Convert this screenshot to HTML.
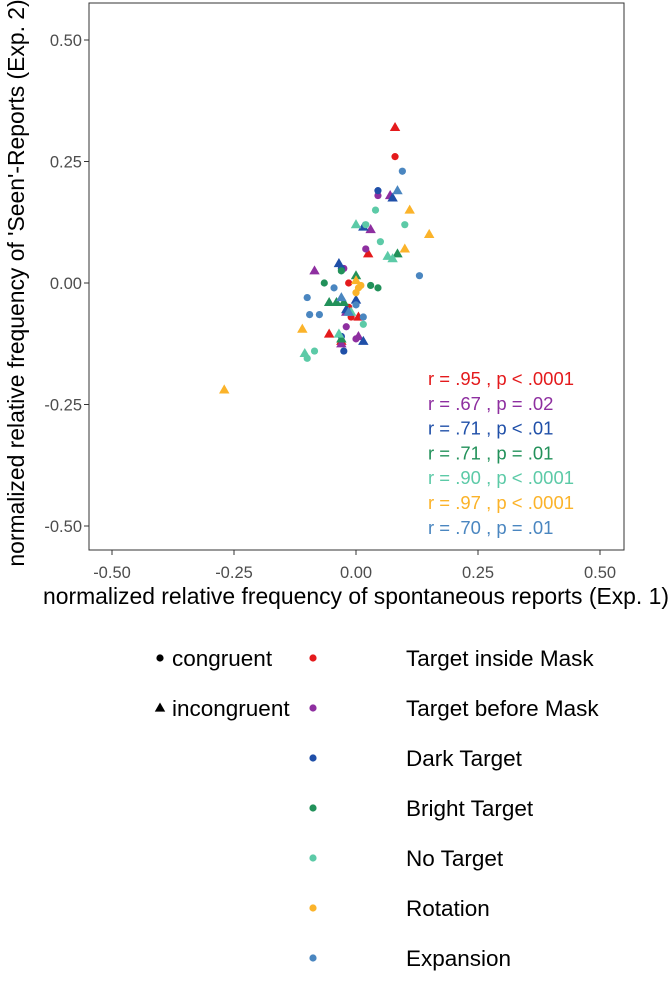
<!DOCTYPE html>
<html><head><meta charset="utf-8"><style>
body{margin:0;background:#fff;font-family:"Liberation Sans",Arial,sans-serif}
svg text{font-family:"Liberation Sans",Arial,sans-serif}
</style></head><body>
<svg id="chart" width="670" height="997">
<rect x="89" y="3" width="535" height="547" fill="#fff" stroke="#333" stroke-width="1"/>
<g id="axes"></g><g id="marks"></g><g id="annot"></g><g id="legend"></g>
<text x="356" y="604" text-anchor="middle" font-size="22.9" fill="#000">normalized relative frequency of spontaneous reports (Exp. 1)</text>
<text transform="translate(24,283) rotate(-90)" text-anchor="middle" font-size="22.9" fill="#000">normalized relative frequency of 'Seen'-Reports (Exp. 2)</text>
</svg>
<script>
const xTicks=[-0.5,-0.25,0,0.25,0.5];
const yTicks=[-0.5,-0.25,0,0.25,0.5];
const tickLabels=["-0.50","-0.25","0.00","0.25","0.50"];
const seriesNames=["Target inside Mask","Target before Mask","Dark Target","Bright Target","No Target","Rotation","Expansion"];
const seriesColors=["#e41a1c","#8e2fa0","#1f4fa8","#22915a","#5ccaa7","#fbb32a","#4a86c0"];
const corrLabels=["r =  .95 , p < .0001","r =  .67 , p = .02","r =  .71 , p < .01","r =  .71 , p = .01","r =  .90 , p < .0001","r =  .97 , p < .0001","r =  .70 , p = .01"];
// [x, y] values per series, C = congruent (circle), I = incongruent (triangle)
const redC=[[.08,.26],[-.015,0],[-.015,-.05],[-.01,-.07]];
const redI=[[.08,.32],[.025,.06],[.005,-.07],[-.055,-.105],[-.03,-.12]];
const purC=[[.02,.07],[.045,.18],[-.025,.03],[0,-.115],[-.02,-.09]];
const purI=[[-.085,.025],[.03,.11],[.07,.18],[.005,-.11],[-.03,-.125],[-.02,-.06]];
const dbC=[[.045,.19],[-.03,.03],[-.025,-.14],[-.03,-.11]];
const dbI=[[-.035,.04],[.015,.115],[.075,.175],[0,-.035],[.015,-.12],[-.02,-.055]];
const grC=[[-.065,0],[-.03,.025],[.03,-.005],[.045,-.01]];
const grI=[[.085,.06],[0,.015],[-.04,-.04],[-.055,-.04],[-.025,-.04],[-.03,-.115]];
const ntC=[[.04,.15],[.02,.12],[.05,.085],[.1,.12],[-.085,-.14],[-.1,-.155],[.015,-.085]];
const ntI=[[.065,.055],[.075,.05],[-.01,-.06],[-.105,-.145],[-.035,-.105],[0,.12]];
const roC=[[0,-.02],[.005,-.01],[.01,-.005]];
const roI=[[.11,.15],[.15,.1],[.1,.07],[-.27,-.22],[-.11,-.095],[0,.005]];
const exC=[[.095,.23],[.13,.015],[-.1,-.03],[-.095,-.065],[-.075,-.065],[0,-.045],[-.045,-.01],[.015,-.07]];
const exI=[[-.03,-.03],[.085,.19],[-.015,-.06]];
const circles=[redC,purC,dbC,grC,ntC,roC,exC];
const triangles=[redI,purI,dbI,grI,ntI,roI,exI];

const NS="http://www.w3.org/2000/svg";
const sx=v=>356+v*488, sy=v=>283-v*486;
function mk(tag,attrs,parent){const e=document.createElementNS(NS,tag);for(const k in attrs)e.setAttribute(k,attrs[k]);parent.appendChild(e);return e;}
const axes=document.getElementById('axes');
xTicks.forEach((v,i)=>{
 const l=mk('line',{x1:sx(v),x2:sx(v),y1:550,y2:555,stroke:'#333'},axes);
 
 
 const t=mk('text',{x:sx(v),y:578,'text-anchor':'middle','font-size':16.5,fill:'#4d4d4d'},axes);t.textContent=tickLabels[i];
 
 
});
yTicks.forEach((v,i)=>{
 const l=mk('line',{x1:84,x2:89,y1:sy(v),y2:sy(v),stroke:'#333'},axes);
 
 
 const t=mk('text',{x:82,y:sy(v)+6,'text-anchor':'end','font-size':16.5,fill:'#4d4d4d'},axes);t.textContent=tickLabels[i];
 
 
});
const marks=document.getElementById('marks');
function tri(cx,cy,s){return `${cx},${cy-s} ${cx-s*0.95},${cy+s*0.65} ${cx+s*0.95},${cy+s*0.65}`;}
for(let s=0;s<7;s++){
 circles[s].forEach(p=>{const c=mk('circle',{cx:sx(p[0]),cy:sy(p[1]),r:3.6,fill:seriesColors[s]},marks);
  
  });
 triangles[s].forEach(p=>{const c=mk('polygon',{points:tri(sx(p[0]),sy(p[1]),5.5),fill:seriesColors[s]},marks);
  
  });
}
const annot=document.getElementById('annot');
corrLabels.forEach((s,i)=>{const t=mk('text',{x:428,y:385+i*24.8,'font-size':18.5,fill:seriesColors[i],'xml:space':'preserve'},annot);t.textContent=s;
 
 });
const lg=document.getElementById('legend');
[['congruent',0],['incongruent',1]].forEach(([n,i])=>{
 const y=658+i*50;
 const m=i?mk('polygon',{points:tri(160,y,5.5),fill:'#000'},lg):mk('circle',{cx:160,cy:y,r:3.6,fill:'#000'},lg);
 
 
 const t=mk('text',{x:172,y:y+8,'font-size':22.5,fill:'#000'},lg);t.textContent=n;
 
 
});
seriesNames.forEach((n,i)=>{
 const y=658+i*50;
 const m=mk('circle',{cx:313,cy:y,r:3.6,fill:seriesColors[i]},lg);
 
 
 const t=mk('text',{x:406,y:y+8,'font-size':22.5,fill:'#000'},lg);t.textContent=n;
 
 
});
</script>
</body></html>
